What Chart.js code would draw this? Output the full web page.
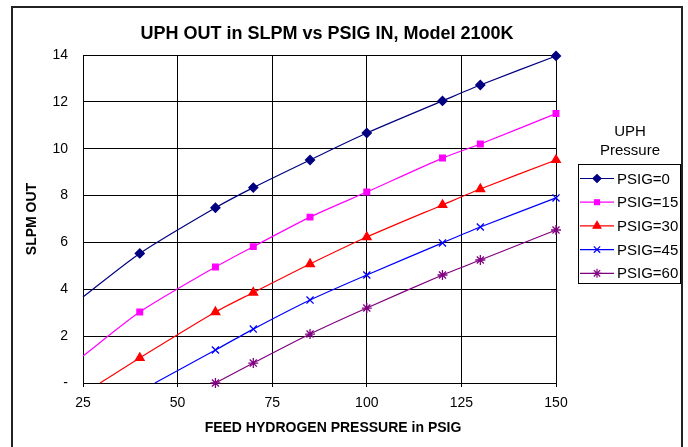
<!DOCTYPE html>
<html>
<head>
<meta charset="utf-8">
<title>UPH OUT in SLPM vs PSIG IN</title>
<script src="https://cdn.jsdelivr.net/npm/chart.js@4/dist/chart.umd.min.js"></script>
<style>
	html, body { margin: 0; padding: 0; background: #fff; }
	canvas { display: block; }
</style>
</head>
<body>
<canvas id="uphChart" width="688" height="447"></canvas>
<script>
// feed pressure (PSIG) where readings were taken
const feedPsig = [40, 60, 70, 85, 100, 120, 130, 150]

// SLPM out for each UPH back pressure
const psig0 = [5.53, 7.48, 8.34, 9.52, 10.67, 12.04, 12.72, 13.96]
const psig15 = [3.03, 4.95, 5.82, 7.08, 8.15, 9.6, 10.2, 11.5]
const psig30 = [1.07, 3.03, 3.86, 5.08, 6.23, 7.6, 8.28, 9.52]
const psig45 = [null, 1.41, 2.3, 3.54, 4.61, 5.98, 6.66, 7.9]
const psig60 = [null, 0, 0.85, 2.09, 3.2, 4.61, 5.25, 6.53]

// where each curve enters the plot (no marker there)
const startX = [25, 25, 29.5, 44, null]
const startY = [3.67, 1.15, 0, 0, null]

const seriesLabels = ["PSIG=0", "PSIG=15", "PSIG=30", "PSIG=45", "PSIG=60"]
const yTicks = [0, 2, 4, 6, 8, 10, 12, 14]
const xTicks = [25, 50, 75, 100, 125, 150]

const FONT = "'Liberation Sans', Arial, sans-serif"

const styles = [
	{ color: "#000080", pointStyle: "rectRot", radius: 4.5 },
	{ color: "#FF00FF", pointStyle: "rect", radius: 4 },
	{ color: "#FF0000", pointStyle: "triangle", radius: 5 },
	{ color: "#0000FF", pointStyle: "crossRot", radius: 5 },
	{ color: "#800080", pointStyle: "star", radius: 5 }
]

function buildData(values, i) {
	const pts = []
	if (startX[i] !== null) pts.push({ x: startX[i], y: startY[i], start: true })
	values.forEach((v, j) => {
		if (v !== null) pts.push({ x: feedPsig[j], y: v })
	})
	return pts
}

const allSeries = [psig0, psig15, psig30, psig45, psig60]

const datasets = allSeries.map((values, i) => ({
	label: seriesLabels[i],
	data: buildData(values, i),
	borderColor: styles[i].color,
	backgroundColor: styles[i].color,
	borderWidth: 1.2,
	tension: 0.25,
	clip: false,
	pointStyle: styles[i].pointStyle,
	pointRadius: ctx => (ctx.raw && ctx.raw.start ? 0 : styles[i].radius),
	pointBorderWidth: 1.3,
	pointBackgroundColor: styles[i].color,
	pointBorderColor: styles[i].color
}))

const decorations = {
	id: "decorations",
	beforeDraw(chart) {
		const ctx = chart.ctx
		ctx.save()
		ctx.fillStyle = "#fff"
		ctx.fillRect(0, 0, chart.width, chart.height)
		ctx.restore()
	},
	afterDraw(chart) {
		const ctx = chart.ctx
		ctx.save()

		// outer frame
		ctx.strokeStyle = "#222"
		ctx.lineWidth = 2
		ctx.strokeRect(12, 7, 670, 470)

		// chart title
		ctx.fillStyle = "#000"
		ctx.textAlign = "center"
		ctx.textBaseline = "middle"
		ctx.font = "bold 18px " + FONT
		ctx.fillText("UPH OUT in SLPM vs PSIG IN, Model 2100K", 327, 34)

		// x axis title
		ctx.font = "bold 14px " + FONT
		ctx.fillText("FEED HYDROGEN PRESSURE in PSIG", 333, 428)

		// legend title
		ctx.font = "15px " + FONT
		ctx.fillText("UPH", 630, 132)
		ctx.fillText("Pressure", 630, 151)

		// legend box
		ctx.strokeStyle = "#000"
		ctx.lineWidth = 1
		ctx.strokeRect(578.5, 164.5, 102, 119)

		chart.data.datasets.forEach((ds, i) => {
			const y = 178.5 + i * 23.7
			ctx.strokeStyle = ds.borderColor
			ctx.lineWidth = 1.2
			ctx.beginPath()
			ctx.moveTo(580, y)
			ctx.lineTo(614, y)
			ctx.stroke()
			ctx.fillStyle = ds.borderColor
			Chart.helpers.drawPoint(ctx, {
				pointStyle: ds.pointStyle,
				radius: styles[i].radius - 0.5,
				borderWidth: 1.3,
				rotation: 0
			}, 597, y)
			ctx.fillStyle = "#000"
			ctx.textAlign = "left"
			ctx.textBaseline = "middle"
			ctx.font = "15px " + FONT
			ctx.fillText(ds.label, 617, y + 1)
		})

		ctx.restore()
	}
}

const uphChart = new Chart(document.getElementById("uphChart"), {
	type: "line",
	data: { datasets: datasets },
	options: {
		responsive: false,
		animation: false,
		layout: { padding: { left: 0, right: 132, top: 55, bottom: 0 } },
		plugins: {
			legend: { display: false },
			title: { display: false },
			tooltip: { enabled: false }
		},
		scales: {
			x: {
				type: "linear",
				min: xTicks[0],
				max: xTicks[xTicks.length - 1],
				afterBuildTicks: scale => { scale.ticks = xTicks.map(v => ({ value: v })) },
				afterFit: scale => { scale.height = 64 },
				ticks: {
					color: "#000",
					font: { family: FONT, size: 14 },
					padding: 8,
					maxRotation: 0
				},
				grid: { color: "#000", lineWidth: 1, tickLength: 4 },
				border: { color: "#000", width: 1 }
			},
			y: {
				min: yTicks[0],
				max: yTicks[yTicks.length - 1],
				afterBuildTicks: scale => { scale.ticks = yTicks.map(v => ({ value: v })) },
				afterFit: scale => { scale.width = 83 },
				ticks: {
					color: "#000",
					font: { family: FONT, size: 14 },
					padding: 15,
					callback: v => (v === 0 ? "-" : v)
				},
				grid: { color: "#000", lineWidth: 1, drawTicks: false },
				border: { color: "#000", width: 1 },
				title: {
					display: true,
					text: "SLPM OUT",
					color: "#000",
					font: { family: FONT, size: 14, weight: "bold" },
					padding: { top: 24, bottom: 0 }
				}
			}
		}
	},
	plugins: [decorations]
})
</script>
</body>
</html>
